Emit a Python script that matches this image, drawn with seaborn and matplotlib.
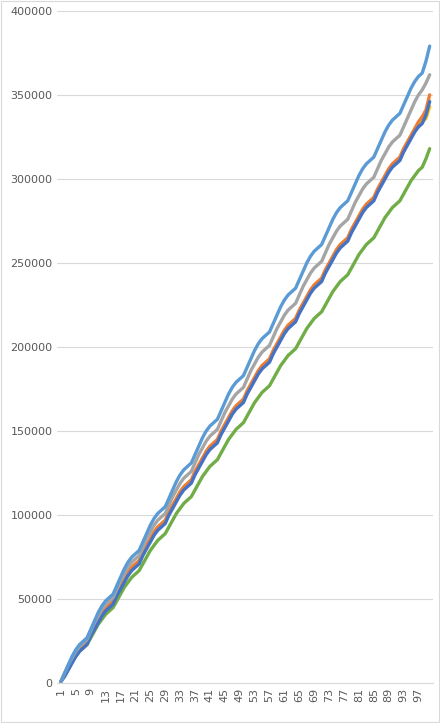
import matplotlib
matplotlib.use("Agg")
import matplotlib.pyplot as plt
import seaborn as sns
import pandas as pd

days = list(range(1, 101))
light_blue = [1,6,11,16,20,23,25,27,32,37,42,46,49,51,53,58,63,68,72,75,77,79,84,89,94,98,101,103,105,110,115,120,124,127,129,131,136,141,146,150,153,155,157,162,167,172,176,179,181,183,188,193,198,202,205,207,209,214,219,224,228,231,233,235,240,245,250,254,257,259,261,266,271,276,280,283,285,287,292,297,302,306,309,311,313,318,323,328,332,335,337,339,344,349,354,358,361,363,370,379]
gray = [1,6,11,15,19,22,24,26,31,36,40,44,47,49,51,56,61,65,69,72,74,76,81,86,90,94,97,99,101,106,111,115,119,122,124,126,131,136,140,144,147,149,151,156,161,165,169,172,174,176,181,186,190,194,197,199,201,206,211,215,219,222,224,226,231,236,240,244,247,249,251,256,261,265,269,272,274,276,281,286,290,294,297,299,301,306,311,315,319,322,324,326,331,336,341,346,350,353,357,362]
orange = [1,6,10,14,18,21,23,25,30,34,38,42,45,47,49,54,58,62,66,69,71,73,78,82,86,90,93,95,97,102,106,110,114,117,119,121,126,130,134,138,141,143,145,150,154,158,162,165,167,169,174,178,182,186,189,191,193,198,202,206,210,213,215,217,222,226,230,234,237,239,241,246,250,254,258,261,263,265,270,274,278,282,285,287,289,294,298,302,306,309,311,313,318,322,326,330,334,337,341,350]
dark_blue = [1,4,8,12,16,19,21,23,28,32,36,40,43,45,47,52,56,60,64,67,69,71,76,80,84,88,91,93,95,100,104,108,112,115,117,119,124,128,132,136,139,141,143,148,152,156,160,163,165,167,172,176,180,184,187,189,191,196,200,204,208,211,213,215,220,224,228,232,235,237,239,244,248,252,256,259,261,263,268,272,276,280,283,285,287,292,296,300,304,307,309,311,316,320,324,328,331,333,338,346]
yellow = [1,5,9,13,17,20,22,24,29,33,37,41,44,46,48,53,57,61,65,68,70,72,77,81,85,89,92,94,96,101,105,109,113,116,118,120,125,129,133,137,140,142,144,149,153,157,161,164,166,168,173,177,181,185,188,190,192,197,201,205,209,212,214,216,221,225,229,233,236,238,240,245,249,253,257,260,262,264,269,273,277,281,284,286,288,293,297,301,305,308,310,312,317,321,325,329,332,334,336,343]
green = [1,5,9,13,16,19,21,23,27,31,35,38,41,43,45,49,53,57,60,63,65,67,71,75,79,82,85,87,89,93,97,101,104,107,109,111,115,119,123,126,129,131,133,137,141,145,148,151,153,155,159,163,167,170,173,175,177,181,185,189,192,195,197,199,203,207,211,214,217,219,221,225,229,233,236,239,241,243,247,251,255,258,261,263,265,269,273,277,280,283,285,287,291,295,299,302,305,307,312,318]

series = [("s1", light_blue, "#5B9BD5"), ("s2", orange, "#ED7D31"), ("s3", gray, "#A5A5A5"),
          ("s4", yellow, "#FFC000"), ("s5", dark_blue, "#4472C4"), ("s6", green, "#70AD47")]
draw_order = ["s6", "s4", "s2", "s5", "s3", "s1"]

sns.set_style("white")
fig, ax = plt.subplots(figsize=(4.4, 7.23), dpi=100)
fig.subplots_adjust(left=0.13, right=0.985, top=0.985, bottom=0.055)
for name in draw_order:
    vals, col = next((v, c) for n, v, c in series if n == name)
    df = pd.DataFrame({"day": days, "val": [v * 1000 for v in vals]})
    sns.lineplot(data=df, x="day", y="val", color=col, linewidth=2.4, ax=ax)

ax.set_xlim(0, 101)
ax.set_ylim(0, 400000)
ax.set_yticks(range(0, 400001, 50000))
ax.set_xticks(list(range(1, 101, 4)))
ax.tick_params(axis="x", rotation=90, labelsize=8, colors="#595959", length=0)
ax.tick_params(axis="y", labelsize=8, colors="#595959", length=0)
ax.grid(axis="y", color="#D9D9D9", linewidth=0.8)
ax.set_axisbelow(True)
for s in ["top", "right", "left"]:
    ax.spines[s].set_visible(False)
ax.spines["bottom"].set_color("#D9D9D9")
ax.set_xlabel("")
ax.set_ylabel("")
fig.patches.append(plt.Rectangle((0.002, 0.002), 0.996, 0.996, transform=fig.transFigure,
                                 fill=False, edgecolor="#D9D9D9", linewidth=0.8))
fig.savefig("out.png", dpi=100)
